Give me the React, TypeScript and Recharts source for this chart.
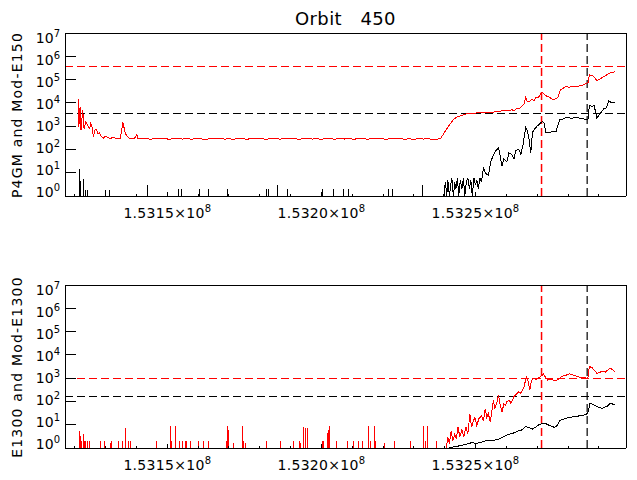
import React from "react";
import { LineChart, Line, XAxis, YAxis, ReferenceLine } from "recharts";

const FONT = "'DejaVu Sans', sans-serif";

// x values are in units of 1e3 (153150 -> 1.5315x10^8)
const xDomain: [number, number] = [153116.8, 153298.8];
const xTicks = [
  153120, 153130, 153140, 153150, 153160, 153170, 153180, 153190, 153200,
  153210, 153220, 153230, 153240, 153250, 153260, 153270, 153280, 153290,
];
const xMajor = [153150, 153200, 153250];
const yTicks = [1, 10, 100, 1e3, 1e4, 1e5, 1e6, 1e7];

const vRedLine = 153271.4;
const vBlackLine = 153286.2;
const topRedLevel = 3.8e5;
const topBlackLevel = 3600;
const bottomRedLevel = 1000;
const bottomBlackLevel = 156;

type Pt = [number, number];

// top panel, red trace (P4GM)
const topRedStart: Pt[] = [
  [153121.1, 14500], [153121.3, 960], [153121.5, 3000], [153121.7, 6900], [153122.0, 690],
  [153122.55, 5000], [153123.0, 750], [153123.6, 1580], [153124.3, 1000], [153124.8, 800],
  [153125.15, 1350], [153125.6, 900], [153126.0, 355], [153126.55, 700], [153127.1, 690],
  [153127.5, 450], [153128.0, 520], [153128.5, 380], [153129.25, 300], [153129.8, 360],
  [153130.45, 340], [153131.4, 290], [153132.1, 320], [153132.7, 330], [153133.4, 280],
  [153134.0, 300], [153134.7, 285], [153135.15, 600], [153135.55, 1480], [153135.8, 1100],
  [153136.0, 800], [153136.3, 520], [153136.65, 420], [153137.3, 330], [153137.95, 290],
  [153138.6, 310], [153139.2, 285], [153140.1, 420], [153140.5, 290],
];
const topRedFlat: Pt[] = [
  [153141.5, 285], [153143, 300], [153144.5, 275], [153146, 295], [153147.5, 280],
  [153149, 305], [153150.5, 270], [153152, 290], [153153.5, 300], [153155, 278],
  [153156.5, 296], [153158, 272], [153159.5, 302], [153161, 284], [153162.5, 268],
  [153164, 298], [153165.5, 280], [153167, 306], [153168.5, 276], [153170, 292],
  [153171.5, 270], [153173, 300], [153174.5, 286], [153176, 274], [153177.5, 304],
  [153179, 282], [153180.5, 296], [153182, 270], [153183.5, 290], [153185, 310],
  [153186.5, 276], [153188, 294], [153189.5, 280], [153191, 300], [153192.5, 272],
  [153194, 288], [153195.5, 305], [153197, 278], [153198.5, 292], [153200, 268],
  [153201.5, 298], [153203, 284], [153204.5, 275], [153206, 302], [153207.5, 280],
  [153209, 294], [153210.5, 270], [153212, 300], [153213.5, 286], [153215, 276],
  [153216.5, 298], [153218, 280], [153219.5, 290], [153221, 268], [153222.5, 300],
  [153224, 282], [153225.5, 296], [153227, 274], [153228.5, 288], [153230, 270],
  [153231.5, 295], [153233, 278], [153234.5, 290], [153236, 272],
];
const topRedRise: Pt[] = [
  [153237.75, 280], [153238.7, 300], [153239.9, 535], [153241.0, 900], [153242.1, 1450],
  [153242.95, 2000], [153244.25, 2570], [153245.9, 3000], [153247.2, 3400], [153248.7, 3570],
  [153250.1, 3650], [153251.7, 3800], [153254.2, 3970], [153255.4, 3800], [153256.6, 4300],
  [153257.6, 4100], [153258.55, 4680], [153260.15, 4500], [153261.8, 5000], [153262.6, 4700],
  [153263.4, 6000], [153264.3, 5600], [153265.2, 7800], [153265.7, 9000],
  [153266.25, 17800], [153266.65, 12000], [153267.3, 11000], [153268.3, 14000], [153269.0, 12500],
  [153269.6, 17800], [153270.3, 16000],
  [153270.9, 22000], [153271.55, 29500], [153272.85, 20000], [153273.95, 17800], [153275.05, 13600],
  [153275.8, 14500], [153276.7, 16600], [153277.45, 35000], [153278.4, 42000], [153279.45, 52000],
  [153280.2, 46000], [153281.0, 50000], [153282.75, 49000], [153283.5, 53000], [153284.25, 55000],
  [153285.2, 60000], [153286.0, 69000], [153286.5, 75000],
  [153286.9, 158000], [153288.25, 141000], [153289.35, 89000], [153290.1, 100000], [153291.5, 132000],
  [153292.35, 150000], [153293.2, 186000], [153294.3, 200000], [153295.3, 220000],
];

// top panel, black trace (Mod-E150): isolated spikes then the rising part
const topBlackSpikes: Pt[] = [
  [153121.45, 14.5], [153121.9, 4.4], [153122.75, 5.4], [153123.4, 1.9], [153124.05, 1.9],
  [153130.0, 1.9], [153131.1, 1.9], [153143.55, 3], [153153.65, 2], [153154.5, 2],
  [153160.45, 2], [153163.4, 2], [153169.55, 2], [153182.15, 2], [153182.8, 2],
  [153185.6, 3], [153188.9, 2], [153200.45, 2], [153204.0, 2], [153207.3, 2],
  [153208.9, 2], [153221.6, 2], [153223.0, 2], [153232.85, 3],
];
const topBlackTrace: Pt[] = [
  [153239.7, 1], [153240.2, 4], [153240.65, 1], [153241.0, 5], [153241.5, 1],
  [153241.95, 3], [153242.3, 6], [153242.8, 1], [153243.25, 4], [153243.6, 2],
  [153244.1, 6], [153244.55, 1], [153245.05, 5], [153245.55, 2], [153246.05, 6],
  [153246.5, 1], [153247.0, 4], [153247.5, 6], [153248.0, 2], [153248.45, 5],
  [153248.95, 1], [153249.45, 6], [153249.95, 3], [153250.4, 5], [153250.9, 2],
  [153251.4, 6], [153251.9, 4], [153252.55, 16], [153253.35, 9], [153254.2, 8],
  [153254.95, 30], [153255.8, 60], [153256.6, 90], [153257.45, 118], [153257.9, 60],
  [153258.55, 19], [153259.2, 40], [153260.15, 30], [153260.8, 70], [153261.8, 60],
  [153262.45, 40], [153263.1, 90], [153264.05, 100], [153264.7, 60], [153265.35, 150],
  [153266.25, 870], [153266.85, 600], [153267.3, 300], [153267.9, 71], [153268.45, 535],
  [153269.3, 800], [153270.1, 1040], [153270.9, 1300], [153271.75, 1600], [153272.2, 1400],
  [153272.85, 535], [153274.5, 560], [153276.1, 590], [153277.25, 1850], [153278.4, 2000],
  [153279.45, 2400], [153281.0, 2200], [153282.6, 2300], [153284.25, 2200], [153286.0, 1850],
  [153286.5, 2000], [153286.9, 7800], [153287.8, 7000], [153288.45, 7800], [153289.35, 2240],
  [153290.1, 3000], [153291.05, 4500], [153291.7, 5800], [153292.35, 6000], [153293.2, 12000],
  [153294.3, 10000], [153295.3, 11000],
];

// bottom panel, red trace (E1300)
const bottomRedSpikes: Pt[] = [
  [153121.35, 5.5], [153121.7, 3.2], [153122.1, 2], [153122.75, 4], [153123.2, 2],
  [153123.6, 2], [153124.2, 2], [153124.7, 2], [153128.4, 2], [153129.5, 2],
  [153131.4, 1.6], [153131.75, 2], [153134.1, 2], [153135.45, 2], [153136.3, 7.5],
  [153137.4, 2], [153138.15, 2], [153146.6, 2], [153151.15, 8.5], [153151.5, 2],
  [153152.55, 8.5], [153153.95, 2], [153155.05, 2], [153155.8, 2], [153156.35, 2],
  [153157.65, 2], [153160.25, 2], [153161.75, 2], [153163.2, 2], [153169.35, 2],
  [153169.55, 8.5], [153169.9, 6], [153171.5, 1.7], [153174.45, 8.5], [153174.75, 2],
  [153175.3, 1.6], [153182.15, 2], [153186.7, 2], [153191.0, 2], [153192.85, 2],
  [153193.2, 1.6], [153194.25, 8], [153194.8, 7.5], [153195.4, 7], [153200.25, 2],
  [153200.8, 2], [153201.9, 4.3], [153202.2, 6], [153202.65, 8.5], [153204.9, 2],
  [153208.4, 2], [153210.35, 2], [153211.95, 2], [153213.25, 2], [153215.1, 8.5],
  [153215.75, 2], [153217.05, 8.5], [153217.6, 2], [153220.5, 1.7], [153223.55, 2],
  [153228.95, 2], [153233.1, 8.5], [153233.85, 2], [153234.4, 8.5], [153237.4, 2],
];
const bottomRedTrace: Pt[] = [
  [153240.45, 1], [153241.0, 2.8], [153241.5, 1.5], [153242.1, 5.5], [153242.6, 2],
  [153243.25, 4], [153243.75, 2.5], [153244.3, 7.7], [153244.9, 3], [153245.55, 6],
  [153246.2, 3], [153246.85, 8], [153247.5, 4], [153248.15, 29], [153248.7, 7.7],
  [153249.1, 12], [153249.75, 21], [153250.4, 9], [153251.05, 18], [153252.0, 24],
  [153252.55, 14], [153253.1, 49], [153253.65, 20], [153254.15, 30], [153254.75, 13],
  [153255.3, 40], [153255.8, 112], [153256.25, 50], [153256.9, 90], [153257.45, 186],
  [153257.9, 80], [153258.55, 35], [153259.2, 80], [153259.7, 68], [153260.15, 100],
  [153261.0, 112], [153261.45, 80], [153262.4, 156], [153263.1, 200], [153264.05, 259],
  [153264.7, 220], [153265.2, 309], [153265.7, 400], [153266.45, 1170], [153267.1, 705],
  [153267.6, 309], [153267.95, 600], [153268.45, 990], [153269.6, 900], [153270.9, 1100],
  [153272.05, 1515], [153272.85, 1000], [153273.4, 830], [153274.5, 850], [153276.1, 790],
  [153277.05, 900], [153277.8, 1170], [153279.05, 1300], [153280.5, 1515], [153281.95, 1300],
  [153283.6, 1100], [153285.2, 1050], [153286.0, 990], [153286.5, 1100], [153286.9, 3170],
  [153287.8, 2800], [153289.35, 1630], [153290.1, 1700], [153291.05, 2000], [153292.05, 1800],
  [153293.0, 2300], [153293.7, 2700], [153294.65, 2200], [153295.3, 1900],
];

// bottom panel, black trace (Mod-E1300)
const bottomBlackTrace: Pt[] = [
  [153241.3, 1], [153242.6, 1.1], [153244.3, 1.2], [153245.2, 1.3], [153246.5, 1.4],
  [153247.5, 1.5], [153248.7, 1.7], [153250.1, 1.6], [153251.7, 1.7], [153253.0, 2.0],
  [153254.2, 2.2], [153255.6, 2.1], [153257.45, 2.4], [153258.9, 3], [153260.75, 3.9],
  [153262.1, 4.3], [153264.05, 5.5], [153265.05, 6], [153266.25, 8.3], [153267.3, 7.5],
  [153268.45, 6.5], [153269.6, 8], [153270.6, 10], [153271.75, 11.6], [153272.85, 11],
  [153274.15, 9], [153275.6, 7.7], [153276.4, 9], [153277.25, 15], [153278.4, 17],
  [153280.5, 21], [153282.3, 22], [153283.6, 24], [153284.95, 25], [153285.85, 28],
  [153286.55, 35], [153287.1, 85], [153288.15, 75], [153289.35, 61], [153290.1, 55],
  [153291.05, 50], [153292.05, 58], [153293.0, 65], [153293.7, 85], [153294.65, 75],
  [153295.4, 68],
];

const seriesStart = 153120.9;

function toRows(start: number | null, spikes: Pt[], trace: Pt[]) {
  const rows: { t: number; v: number }[] = [];
  if (start !== null) rows.push({ t: start, v: 1 });
  spikes.forEach(([t, v]) => {
    rows.push({ t, v: 1 }, { t, v }, { t, v: 1 });
  });
  trace.forEach(([t, v]) => rows.push({ t, v }));
  return rows;
}

const topRed = toRows(null, [], [...topRedStart, ...topRedFlat, ...topRedRise]);
const topBlack = toRows(seriesStart, topBlackSpikes, topBlackTrace);
const bottomRed = toRows(seriesStart, bottomRedSpikes, bottomRedTrace);
const bottomBlack = toRows(null, [], bottomBlackTrace);

const PLOT_TOP = 33;
const PLOT_BOTTOM = 196;
const CRISP = "crispEdges";

function BottomTick(props: any) {
  const { x, y, payload } = props;
  const major = xMajor.includes(payload.value);
  return (
    <g>
      <line x1={x} x2={x} y1={y} y2={y - (major ? 4 : 2)} stroke="#000" shapeRendering={CRISP} />
      {major && (
        <text x={x} y={y + 22} textAnchor="middle" fontFamily={FONT} fontSize={14} letterSpacing={0.3} fill="#000">
          {(payload.value / 1e5).toFixed(4)}×10
          <tspan dy={-6} fontSize={10}>8</tspan>
        </text>
      )}
    </g>
  );
}

function TopTick(props: any) {
  const { x, y, payload } = props;
  const major = xMajor.includes(payload.value);
  return <line x1={x} x2={x} y1={y} y2={y + (major ? 4 : 2)} stroke="#000" shapeRendering={CRISP} />;
}

function LeftTick(props: any) {
  const { x, y, payload } = props;
  const exp = Math.round(Math.log10(payload.value));
  // IDL squeezes the decade labels slightly towards the middle
  const centre = y + 5 - (9 * (y - PLOT_TOP)) / (PLOT_BOTTOM - PLOT_TOP);
  return (
    <g>
      <line x1={x} x2={x + 11} y1={y} y2={y} stroke="#000" shapeRendering={CRISP} />
      <text x={x - 5} y={centre + 5} textAnchor="end" fontFamily={FONT} fontSize={14} fill="#000">
        10
        <tspan dy={-6} fontSize={10}>{exp}</tspan>
      </text>
    </g>
  );
}

function RightTick(props: any) {
  const { x, y } = props;
  return <line x1={x} x2={x - 10} y1={y} y2={y} stroke="#000" shapeRendering={CRISP} />;
}

type PanelProps = {
  top: number;
  red: { t: number; v: number }[];
  black: { t: number; v: number }[];
  redLevel: number;
  blackLevel: number;
};

function Panel({ top, red, black, redLevel, blackLevel }: PanelProps) {
  const axisLine = { stroke: "#000", strokeWidth: 1, shapeRendering: CRISP };
  const dash = "8 4";
  return (
    <div style={{ position: "absolute", left: 0, top }}>
      <LineChart width={637} height={240} margin={{ top: 0, right: 0, bottom: 0, left: 0 }}>
        <XAxis
          xAxisId="b" dataKey="t" type="number" domain={xDomain} ticks={xTicks} interval={0}
          height={44} tickSize={0} tickMargin={0} tick={<BottomTick />} axisLine={axisLine}
        />
        <XAxis
          xAxisId="t" orientation="top" dataKey="t" type="number" domain={xDomain} ticks={xTicks}
          interval={0} height={33} tickSize={0} tickMargin={0} tick={<TopTick />} axisLine={axisLine}
        />
        <YAxis
          yAxisId="l" type="number" scale="log" domain={[1, 1e7]} ticks={yTicks} interval={0}
          width={65} tickSize={0} tickMargin={0} tick={<LeftTick />} axisLine={axisLine}
        />
        <YAxis
          yAxisId="r" orientation="right" type="number" scale="log" domain={[1, 1e7]} ticks={yTicks}
          interval={0} width={11} tickSize={0} tickMargin={0} tick={<RightTick />} axisLine={axisLine}
        />
        <ReferenceLine xAxisId="b" yAxisId="l" y={redLevel} stroke="#ff0000" strokeDasharray={dash} shapeRendering={CRISP} />
        <ReferenceLine xAxisId="b" yAxisId="l" y={blackLevel} stroke="#000" strokeDasharray={dash} shapeRendering={CRISP} />
        <ReferenceLine xAxisId="b" yAxisId="l" x={vRedLine} stroke="#ff0000" strokeWidth={1.5} strokeDasharray={dash} />
        <ReferenceLine xAxisId="b" yAxisId="l" x={vBlackLine} stroke="#000" strokeWidth={1.2} strokeDasharray={dash} />
        <Line
          xAxisId="b" yAxisId="l" data={red} dataKey="v" type="linear" stroke="#ff0000"
          strokeWidth={1} shapeRendering={CRISP} dot={false} activeDot={false} isAnimationActive={false}
        />
        <Line
          xAxisId="b" yAxisId="l" data={black} dataKey="v" type="linear" stroke="#000"
          strokeWidth={1} shapeRendering={CRISP} dot={false} activeDot={false} isAnimationActive={false}
        />
      </LineChart>
    </div>
  );
}

export default function App() {
  return (
    <div style={{ position: "absolute", left: 0, top: 0, width: 637, height: 480, background: "#fff" }}>
      <Panel top={0} red={topRed} black={topBlack} redLevel={topRedLevel} blackLevel={topBlackLevel} />
      <Panel top={252} red={bottomRed} black={bottomBlack} redLevel={bottomRedLevel} blackLevel={bottomBlackLevel} />
      <svg width={637} height={480} style={{ position: "absolute", left: 0, top: 0, pointerEvents: "none" }}>
        <text x={345.5} y={25} textAnchor="middle" fontFamily={FONT} fontSize={18} letterSpacing={0.4} style={{ whiteSpace: "pre" }}>
          {"Orbit   450"}
        </text>
        <text transform="translate(22,115) rotate(-90)" textAnchor="middle" fontFamily={FONT} fontSize={14} letterSpacing={1.2}>
          P4GM and Mod-E150
        </text>
        <text transform="translate(22,367) rotate(-90)" textAnchor="middle" fontFamily={FONT} fontSize={14} letterSpacing={1.2}>
          E1300 and Mod-E1300
        </text>
      </svg>
    </div>
  );
}
